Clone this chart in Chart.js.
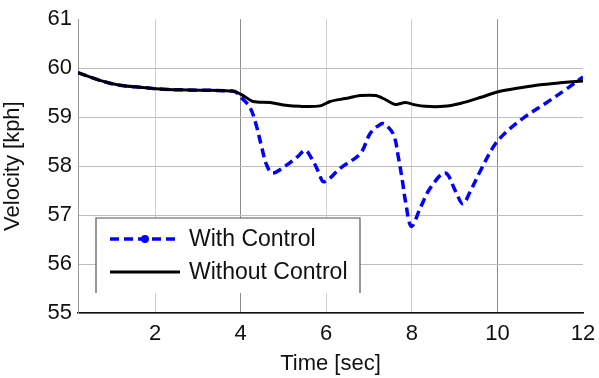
<!DOCTYPE html>
<html>
<head>
<meta charset="utf-8">
<script src="https://cdn.jsdelivr.net/npm/chart.js@4"></script>
<style>
  body { margin: 0; background: #fff; }
  #box { width: 599px; height: 378px; }
</style>
</head>
<body>
<div id="box"><canvas id="velChart"></canvas></div>
<script>
// series: time [sec] and velocity [kph]
const timeNoCtrl = [0.2, 0.71, 1.18, 1.65, 2.19, 3.05, 3.64, 3.87, 4.06, 4.29, 4.69, 5.0, 5.39, 5.86, 6.09, 6.45, 6.8, 7.15, 7.38, 7.61, 7.85, 8.08, 8.31, 8.74, 9.13, 9.6, 10.02, 10.54, 11.0, 11.47, 12.0];
const velNoCtrl  = [59.91, 59.75, 59.65, 59.61, 59.57, 59.55, 59.54, 59.52, 59.44, 59.32, 59.3, 59.25, 59.22, 59.23, 59.32, 59.38, 59.44, 59.44, 59.36, 59.26, 59.3, 59.25, 59.22, 59.22, 59.28, 59.4, 59.52, 59.6, 59.66, 59.7, 59.74];

const timeCtrl = [0.2, 0.71, 1.18, 1.65, 2.19, 3.05, 3.64, 3.87, 4.06, 4.22, 4.36, 4.5, 4.6, 4.74, 5.04, 5.34, 5.51, 5.67, 5.81, 5.95, 6.33, 6.8, 7.03, 7.26, 7.36, 7.57, 7.69, 7.78, 7.85, 7.99, 8.2, 8.43, 8.78, 9.02, 9.19, 9.37, 9.6, 9.95, 10.3, 10.65, 11.12, 11.59, 12.0];
const velCtrl  = [59.91, 59.75, 59.65, 59.61, 59.57, 59.55, 59.54, 59.52, 59.36, 59.2, 58.85, 58.36, 58.04, 57.86, 58.0, 58.2, 58.32, 58.14, 57.9, 57.68, 57.96, 58.26, 58.67, 58.85, 58.86, 58.65, 58.16, 57.7, 57.29, 56.77, 57.15, 57.55, 57.86, 57.49, 57.23, 57.49, 57.9, 58.45, 58.77, 59.01, 59.28, 59.56, 59.82];

const seriesNames = ["With Control", "Without Control"];
const xTicks = [2, 4, 6, 8, 10, 12];

const toPts = (xs, ys) => xs.map((x, i) => ({ x: x, y: ys[i] }));
const font = "Liberation Sans, Arial, sans-serif";

// legend box like the matlab one (bottom edge is cut off)
const boxLegend = {
  id: "boxLegend",
  afterDatasetsDraw(chart) {
    const c = chart.ctx;
    const l = 96, t = 218, r = 360, b = 293;
    c.save();
    c.fillStyle = "#fff";
    c.fillRect(l, t, r - l, b - t);
    c.strokeStyle = "#555";
    c.lineWidth = 1.2;
    c.beginPath();
    c.moveTo(l, b); c.lineTo(l, t); c.lineTo(r, t); c.lineTo(r, b);
    c.stroke();

    // with control
    c.strokeStyle = "#0000ff";
    c.lineWidth = 3.5;
    c.setLineDash([9, 5]);
    c.beginPath(); c.moveTo(110, 239); c.lineTo(180, 239); c.stroke();
    c.setLineDash([]);
    c.fillStyle = "#0000ff";
    c.beginPath(); c.arc(145, 239, 4, 0, Math.PI * 2); c.fill();

    // without control
    c.strokeStyle = "#000";
    c.lineWidth = 3;
    c.beginPath(); c.moveTo(110, 272); c.lineTo(180, 272); c.stroke();

    c.fillStyle = "#111";
    c.font = "23px " + font;
    c.textBaseline = "middle";
    c.fillText(seriesNames[0], 189, 240);
    c.fillText(seriesNames[1], 189, 273);
    c.restore();
  }
};

new Chart(document.getElementById("velChart"), {
  type: "line",
  data: {
    datasets: [
      {
        label: seriesNames[0],
        data: toPts(timeCtrl, velCtrl),
        borderColor: "#0000ff",
        borderWidth: 3.5,
        borderDash: [9, 5],
        pointRadius: 0,
        tension: 0.35,
        order: 1
      },
      {
        label: seriesNames[1],
        data: toPts(timeNoCtrl, velNoCtrl),
        borderColor: "#000",
        borderWidth: 3,
        pointRadius: 0,
        tension: 0.3,
        order: 0
      }
    ]
  },
  options: {
    responsive: true,
    maintainAspectRatio: false,
    animation: false,
    layout: { padding: { left: 0, right: 16, top: 17, bottom: 0 } },
    plugins: { legend: { display: false }, tooltip: { enabled: false } },
    scales: {
      x: {
        type: "linear",
        min: 0.2,
        max: 12,
        afterBuildTicks: (s) => { s.ticks = xTicks.map(v => ({ value: v })); },
        afterFit: (s) => { s.height = 378 - 313; s.paddingRight = 0; s.paddingLeft = 0; },
        grid: {
          drawTicks: false,
          color: (ctx) => {
            const v = ctx.tick ? ctx.tick.value : null;
            if (v === 12) return "rgba(0,0,0,0)";
            if (v === 4 || v === 10) return "#8c8c8c";
            return "#cfcfcf";
          }
        },
        border: { color: "#111", width: 1.5 },
        ticks: { color: "#111", font: { family: font, size: 22 }, padding: 8, maxRotation: 0 },
        title: { display: true, text: "Time [sec]", color: "#111", font: { family: font, size: 22 }, padding: { top: 0, bottom: 1 } }
      },
      y: {
        min: 55,
        max: 61,
        afterFit: (s) => { s.width = 78; },
        grid: {
          drawTicks: false,
          color: (ctx) => (ctx.tick && ctx.tick.value === 61) ? "rgba(0,0,0,0)" : "#bdbdbd"
        },
        border: { color: "#9a9a9a", width: 1 },
        ticks: { stepSize: 1, color: "#111", font: { family: font, size: 22 }, padding: 6 },
        title: { display: true, text: "Velocity [kph]", color: "#111", font: { family: font, size: 22 }, padding: { top: 0, bottom: 2 } }
      }
    }
  },
  plugins: [boxLegend]
});
</script>
</body>
</html>
